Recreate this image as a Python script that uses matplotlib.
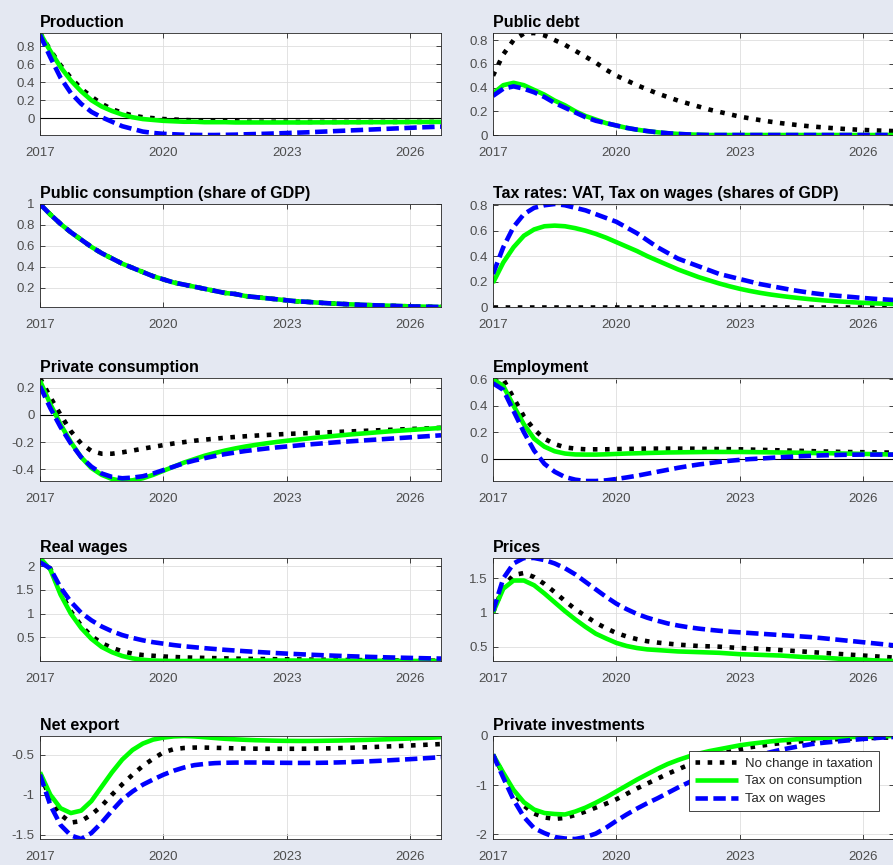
import numpy as np
import matplotlib
matplotlib.use('Agg')
import matplotlib.pyplot as plt
from matplotlib.ticker import MultipleLocator, FuncFormatter

plt.rcParams['font.family'] = ['Liberation Sans', 'DejaVu Sans']
plt.rcParams['axes.unicode_minus'] = False

# quarterly horizon 2017Q1 .. 2026Q4
quarters = np.arange(2017, 2027, 0.25)
year_ticks = [2017, 2020, 2023, 2026]
scenario_labels = ['No change in taxation', 'Tax on consumption', 'Tax on wages']

prod_none = [0.95, 0.76, 0.59, 0.45, 0.33, 0.24, 0.16, 0.10, 0.06, 0.03,
             0.01, 0.00, -0.01, -0.015, -0.02, -0.025, -0.03, -0.03, -0.035, -0.035,
             -0.04, -0.04, -0.04, -0.04, -0.04, -0.042, -0.042, -0.042, -0.042, -0.042,
             -0.042, -0.042, -0.042, -0.042, -0.042, -0.042, -0.042, -0.042, -0.042, -0.042]
prod_cons = [0.95, 0.75, 0.57, 0.42, 0.30, 0.20, 0.13, 0.08, 0.04, 0.01,
             -0.01, -0.02, -0.03, -0.035, -0.04, -0.04, -0.045, -0.045, -0.045, -0.048,
             -0.048, -0.048, -0.048, -0.048, -0.048, -0.048, -0.048, -0.047, -0.047, -0.047,
             -0.046, -0.046, -0.045, -0.045, -0.044, -0.044, -0.043, -0.043, -0.042, -0.042]
prod_wage = [0.93, 0.68, 0.45, 0.28, 0.16, 0.07, 0.01, -0.04, -0.09, -0.12,
             -0.15, -0.165, -0.175, -0.18, -0.185, -0.187, -0.188, -0.188, -0.186, -0.184,
             -0.18, -0.177, -0.174, -0.17, -0.166, -0.162, -0.158, -0.153, -0.148, -0.143,
             -0.138, -0.133, -0.128, -0.123, -0.118, -0.113, -0.108, -0.103, -0.099, -0.095]

debt_none = [0.50, 0.68, 0.80, 0.855, 0.86, 0.84, 0.80, 0.76, 0.71, 0.66,
             0.61, 0.55, 0.50, 0.46, 0.42, 0.385, 0.35, 0.32, 0.29, 0.265,
             0.24, 0.215, 0.195, 0.175, 0.155, 0.14, 0.125, 0.112, 0.10, 0.09,
             0.08, 0.072, 0.065, 0.058, 0.052, 0.047, 0.043, 0.039, 0.036, 0.033]
debt_cons = [0.35, 0.42, 0.44, 0.42, 0.38, 0.34, 0.29, 0.25, 0.20, 0.16,
             0.13, 0.10, 0.08, 0.06, 0.045, 0.033, 0.023, 0.015, 0.009, 0.005,
             0.002, 0.0, 0.0, 0.0, 0.0, 0.0, 0.0, 0.0, 0.0, 0.0,
             0.0, 0.0, 0.0, 0.0, 0.0, 0.0, 0.0, 0.0, 0.0, 0.0]
debt_wage = [0.33, 0.39, 0.41, 0.39, 0.36, 0.32, 0.27, 0.23, 0.19, 0.15,
             0.12, 0.10, 0.08, 0.06, 0.045, 0.033, 0.023, 0.015, 0.009, 0.005,
             0.002, 0.0, 0.0, 0.0, 0.0, 0.0, 0.0, 0.0, 0.0, 0.0,
             0.0, 0.0, 0.0, 0.0, 0.0, 0.0, 0.0, 0.0, 0.0, 0.0]

# same path in all three scenarios
gov_cons = [1.00, 0.90, 0.81, 0.73, 0.66, 0.59, 0.53, 0.48, 0.43, 0.39,
            0.35, 0.31, 0.28, 0.25, 0.23, 0.21, 0.19, 0.17, 0.15, 0.14,
            0.12, 0.11, 0.10, 0.09, 0.08, 0.07, 0.065, 0.058, 0.052, 0.047,
            0.042, 0.038, 0.034, 0.031, 0.028, 0.025, 0.022, 0.020, 0.018, 0.016]

tax_none = [0.0] * 40
tax_cons = [0.19, 0.35, 0.47, 0.56, 0.61, 0.635, 0.64, 0.635, 0.62, 0.60,
            0.575, 0.545, 0.51, 0.475, 0.44, 0.40, 0.365, 0.33, 0.295, 0.265,
            0.235, 0.21, 0.185, 0.163, 0.143, 0.126, 0.111, 0.098, 0.087, 0.077,
            0.068, 0.06, 0.053, 0.047, 0.042, 0.037, 0.033, 0.029, 0.026, 0.023]
tax_wage = [0.26, 0.47, 0.63, 0.73, 0.78, 0.80, 0.81, 0.80, 0.78, 0.76,
            0.73, 0.70, 0.67, 0.625, 0.58, 0.525, 0.47, 0.425, 0.38, 0.35,
            0.32, 0.29, 0.26, 0.24, 0.22, 0.20, 0.18, 0.165, 0.15, 0.135,
            0.122, 0.11, 0.10, 0.092, 0.085, 0.078, 0.071, 0.065, 0.06, 0.055]

pc_none = [0.27, 0.13, 0.0, -0.12, -0.21, -0.265, -0.285, -0.285, -0.275, -0.262,
           -0.248, -0.235, -0.222, -0.21, -0.2, -0.19, -0.182, -0.175, -0.168, -0.162,
           -0.157, -0.152, -0.148, -0.144, -0.14, -0.137, -0.134, -0.131, -0.128, -0.125,
           -0.122, -0.119, -0.116, -0.113, -0.11, -0.107, -0.104, -0.101, -0.098, -0.095]
pc_cons = [0.25, 0.08, -0.07, -0.2, -0.31, -0.39, -0.44, -0.47, -0.485, -0.48,
           -0.465, -0.44, -0.41, -0.38, -0.35, -0.325, -0.3, -0.28, -0.262, -0.246,
           -0.232, -0.22, -0.209, -0.199, -0.19, -0.182, -0.174, -0.166, -0.159, -0.152,
           -0.145, -0.139, -0.133, -0.127, -0.121, -0.116, -0.111, -0.106, -0.101, -0.096]
pc_wage = [0.21, 0.05, -0.09, -0.21, -0.31, -0.38, -0.43, -0.455, -0.465, -0.46,
           -0.45, -0.43, -0.405, -0.38, -0.355, -0.335, -0.318, -0.302, -0.288, -0.276,
           -0.265, -0.256, -0.247, -0.239, -0.232, -0.225, -0.218, -0.212, -0.206, -0.2,
           -0.195, -0.19, -0.185, -0.18, -0.175, -0.17, -0.165, -0.16, -0.155, -0.15]

emp_none = [0.61, 0.60, 0.46, 0.32, 0.22, 0.15, 0.11, 0.085, 0.075, 0.07,
            0.07, 0.07, 0.072, 0.073, 0.074, 0.075, 0.075, 0.075, 0.075, 0.075,
            0.074, 0.073, 0.072, 0.071, 0.07, 0.068, 0.066, 0.064, 0.062, 0.06,
            0.058, 0.056, 0.054, 0.052, 0.05, 0.049, 0.048, 0.047, 0.046, 0.045]
emp_cons = [0.60, 0.55, 0.40, 0.26, 0.15, 0.09, 0.055, 0.038, 0.031, 0.03,
            0.03, 0.032, 0.035, 0.038, 0.04, 0.042, 0.044, 0.046, 0.047, 0.048,
            0.049, 0.05, 0.05, 0.05, 0.05, 0.049, 0.048, 0.047, 0.046, 0.045,
            0.044, 0.042, 0.041, 0.04, 0.038, 0.037, 0.035, 0.034, 0.032, 0.03]
emp_wage = [0.57, 0.52, 0.36, 0.20, 0.06, -0.04, -0.10, -0.14, -0.16, -0.17,
            -0.17, -0.165, -0.155, -0.143, -0.13, -0.115, -0.1, -0.085, -0.07, -0.057,
            -0.045, -0.035, -0.025, -0.017, -0.01, -0.004, 0.0, 0.005, 0.01, 0.014,
            0.018, 0.021, 0.024, 0.026, 0.028, 0.029, 0.03, 0.03, 0.03, 0.03]

rw_none = [2.15, 1.95, 1.45, 1.05, 0.75, 0.53, 0.38, 0.28, 0.21, 0.16,
           0.13, 0.115, 0.10, 0.09, 0.08, 0.075, 0.07, 0.065, 0.06, 0.055,
           0.05, 0.048, 0.045, 0.042, 0.04, 0.038, 0.035, 0.033, 0.03, 0.028,
           0.026, 0.024, 0.022, 0.02, 0.018, 0.016, 0.015, 0.013, 0.012, 0.01]
rw_cons = [2.17, 1.93, 1.40, 1.00, 0.70, 0.47, 0.30, 0.19, 0.11, 0.06,
           0.03, 0.015, 0.008, 0.005, 0.005, 0.006, 0.008, 0.01, 0.012, 0.013,
           0.014, 0.015, 0.015, 0.015, 0.015, 0.015, 0.014, 0.014, 0.013, 0.013,
           0.012, 0.011, 0.01, 0.01, 0.009, 0.008, 0.007, 0.006, 0.005, 0.005]
rw_wage = [2.08, 1.95, 1.55, 1.25, 1.02, 0.86, 0.73, 0.63, 0.55, 0.49,
           0.44, 0.40, 0.37, 0.34, 0.315, 0.295, 0.275, 0.257, 0.24, 0.225,
           0.21, 0.197, 0.184, 0.172, 0.16, 0.15, 0.14, 0.131, 0.122, 0.114,
           0.106, 0.099, 0.092, 0.086, 0.08, 0.075, 0.07, 0.065, 0.06, 0.056]

pr_none = [1.0, 1.38, 1.55, 1.58, 1.52, 1.42, 1.30, 1.17, 1.05, 0.95,
           0.85, 0.77, 0.70, 0.65, 0.61, 0.58, 0.56, 0.545, 0.53, 0.52,
           0.51, 0.505, 0.50, 0.49, 0.48, 0.475, 0.47, 0.46, 0.45, 0.44,
           0.43, 0.42, 0.41, 0.40, 0.39, 0.38, 0.37, 0.36, 0.35, 0.34]
pr_cons = [1.0, 1.35, 1.47, 1.47, 1.40, 1.28, 1.15, 1.02, 0.90, 0.79,
           0.69, 0.62, 0.555, 0.51, 0.48, 0.46, 0.45, 0.44, 0.43, 0.425,
           0.42, 0.415, 0.41, 0.40, 0.39, 0.385, 0.38, 0.375, 0.37, 0.36,
           0.35, 0.345, 0.34, 0.33, 0.32, 0.315, 0.31, 0.30, 0.295, 0.29]
pr_wage = [1.02, 1.50, 1.72, 1.80, 1.80, 1.77, 1.72, 1.65, 1.56, 1.45,
           1.34, 1.23, 1.13, 1.05, 0.98, 0.925, 0.88, 0.84, 0.81, 0.785,
           0.765, 0.748, 0.733, 0.72, 0.71, 0.70, 0.69, 0.68, 0.67, 0.66,
           0.65, 0.64, 0.625, 0.61, 0.595, 0.58, 0.565, 0.55, 0.535, 0.52]

nx_none = [-0.74, -1.05, -1.25, -1.35, -1.33, -1.25, -1.14, -1.0, -0.87, -0.75,
           -0.64, -0.55, -0.47, -0.43, -0.415, -0.41, -0.41, -0.413, -0.416, -0.42,
           -0.422, -0.424, -0.425, -0.425, -0.425, -0.425, -0.424, -0.422, -0.42, -0.417,
           -0.413, -0.409, -0.405, -0.4, -0.395, -0.39, -0.384, -0.378, -0.372, -0.366]
nx_cons = [-0.72, -1.0, -1.17, -1.23, -1.2, -1.08, -0.9, -0.72, -0.56, -0.44,
           -0.36, -0.31, -0.285, -0.27, -0.265, -0.27, -0.28, -0.29, -0.3, -0.307,
           -0.313, -0.318, -0.321, -0.324, -0.326, -0.327, -0.327, -0.326, -0.324, -0.322,
           -0.319, -0.316, -0.313, -0.309, -0.305, -0.301, -0.296, -0.291, -0.286, -0.28]
nx_wage = [-0.75, -1.13, -1.38, -1.51, -1.555, -1.48, -1.35, -1.2, -1.06, -0.96,
           -0.875, -0.81, -0.75, -0.7, -0.66, -0.63, -0.615, -0.605, -0.6, -0.598,
           -0.597, -0.597, -0.598, -0.6, -0.601, -0.602, -0.602, -0.601, -0.599, -0.596,
           -0.592, -0.587, -0.582, -0.576, -0.569, -0.562, -0.555, -0.547, -0.539, -0.53]

inv_none = [-0.38, -0.78, -1.15, -1.42, -1.58, -1.66, -1.69, -1.67, -1.61, -1.54,
            -1.46, -1.38, -1.29, -1.18, -1.07, -0.97, -0.87, -0.77, -0.68, -0.59,
            -0.51, -0.44, -0.38, -0.32, -0.27, -0.23, -0.2, -0.17, -0.145, -0.125,
            -0.107, -0.092, -0.08, -0.07, -0.06, -0.052, -0.045, -0.039, -0.034, -0.03]
inv_cons = [-0.38, -0.75, -1.1, -1.35, -1.5, -1.57, -1.59, -1.6, -1.54, -1.46,
            -1.36, -1.25, -1.13, -1.01, -0.89, -0.78, -0.67, -0.57, -0.49, -0.42,
            -0.36, -0.31, -0.27, -0.23, -0.19, -0.16, -0.135, -0.11, -0.09, -0.075,
            -0.06, -0.05, -0.04, -0.03, -0.025, -0.02, -0.015, -0.01, -0.005, 0.0]
inv_wage = [-0.38, -0.85, -1.3, -1.65, -1.88, -1.98, -2.06, -2.09, -2.1, -2.06,
            -1.99, -1.87, -1.73, -1.6, -1.48, -1.37, -1.27, -1.16, -1.05, -0.95,
            -0.85, -0.75, -0.66, -0.58, -0.5, -0.44, -0.38, -0.33, -0.28, -0.24,
            -0.2, -0.165, -0.14, -0.12, -0.1, -0.08, -0.06, -0.045, -0.03, -0.02]

titles = ['Production', 'Public debt',
          'Public consumption (share of GDP)', 'Tax rates: VAT, Tax on wages (shares of GDP)',
          'Private consumption', 'Employment',
          'Real wages', 'Prices',
          'Net export', 'Private investments']
series = [(prod_none, prod_cons, prod_wage), (debt_none, debt_cons, debt_wage),
          (gov_cons, gov_cons, gov_cons), (tax_none, tax_cons, tax_wage),
          (pc_none, pc_cons, pc_wage), (emp_none, emp_cons, emp_wage),
          (rw_none, rw_cons, rw_wage), (pr_none, pr_cons, pr_wage),
          (nx_none, nx_cons, nx_wage), (inv_none, inv_cons, inv_wage)]


def make_figure():
    W, H = 893, 865
    bg = '#e4e8f2'
    fig = plt.figure(figsize=(W / 100, H / 100), dpi=100, facecolor=bg)

    # axes boxes in pixels (top, bottom) per row and (left, right) per column
    rows = [(33, 135), (204, 307), (378, 481), (558, 661), (736, 839)]
    cols = [(40, 441), (493, 894)]
    ysteps = [0.2, 0.2, 0.2, 0.2, 0.2, 0.2, 0.5, 0.5, 0.5, 1.0]
    zero_line = [True, False, False, False, True, True, False, False, False, False]

    styles = [dict(color='k', ls=':'),
              dict(color='#00ff00', ls='-', solid_capstyle='butt'),
              dict(color='#0000ff', ls='--', dashes=(2.7, 1.2))]

    axes = []
    for k, title in enumerate(titles):
        top, bot = rows[k // 2]
        left, right = cols[k % 2]
        ax = fig.add_axes([left / W, 1 - bot / H, (right - left) / W, (bot - top) / H])
        ax.set_facecolor('white')

        if zero_line[k]:
            ax.axhline(0, color='k', lw=0.8, zorder=1.5)
        for vals, st, lab in zip(series[k], styles, scenario_labels):
            ax.plot(quarters, vals, lw=3.3, label=lab, zorder=2, **st)

        ax.margins(x=0, y=0)
        ax.set_xticks(year_ticks)
        ax.yaxis.set_major_locator(MultipleLocator(ysteps[k]))
        ax.yaxis.set_major_formatter(FuncFormatter(lambda v, p: f'{v:g}'))
        ax.grid(True, color='#dedede', lw=0.6)
        ax.set_axisbelow(True)
        ax.tick_params(direction='in', top=True, right=True, length=3.5, width=0.6,
                       color='#262626', labelcolor='#4d4d4d', labelsize=9.5)
        ax.tick_params(axis='x', pad=9)
        ax.tick_params(axis='y', pad=4)
        for sp in ax.spines.values():
            sp.set_color('#262626')
            sp.set_linewidth(0.6)
        ax.set_title(title, loc='left', fontsize=11.5, fontweight='bold', pad=4)
        axes.append(ax)

    leg = axes[-1].legend(loc='upper right', bbox_to_anchor=(0.963, 0.85), borderaxespad=0,
                          fontsize=9.5, fancybox=False, framealpha=1, edgecolor='#262626',
                          handlelength=3.2, labelspacing=0.42, borderpad=0.45, handletextpad=0.6)
    leg.get_frame().set_linewidth(0.6)
    for t in leg.get_texts():
        t.set_color('#262626')

    fig.savefig('out.png', dpi=100, facecolor=bg)


if __name__ == '__main__':
    make_figure()
